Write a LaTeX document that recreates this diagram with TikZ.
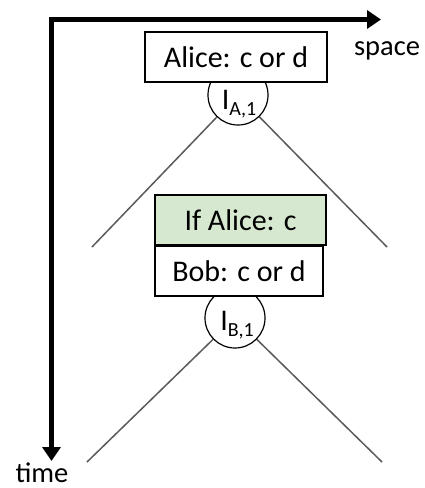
\documentclass[tikz,border=0pt]{standalone}
\usepackage{fontspec}
\setmainfont{Carlito}
\usetikzlibrary{arrows.meta}
\definecolor{greenfill}{RGB}{214,232,207}
\definecolor{branchgray}{RGB}{90,90,90}
\tikzset{
  axis/.style={line width=5pt, line join=miter, -{Triangle[length=14pt,width=18pt]}},
  box/.style={draw=black, line width=1.4pt, fill=white, minimum width=#1, minimum height=50pt, inner sep=0pt, font=\fontsize{30}{36}\selectfont},
  infobox/.style={box=#1, fill=greenfill},
  circ/.style={draw=black, line width=1.2pt, fill=white, circle, minimum size=60pt, inner sep=0pt},
  branch/.style={draw=branchgray, line width=1.5pt},
  lbl/.style={font=\fontsize{28.5}{34}\selectfont, inner sep=0pt},
  clbl/.style={font=\fontsize{30}{36}\selectfont, inner sep=0pt},
}
\newcommand{\subidx}[2]{#1\raisebox{-6pt}{\fontsize{20}{22}\selectfont #2}}
\begin{document}
\begin{tikzpicture}[x=1pt,y=-1pt]
\useasboundingbox (0,0) rectangle (424,488);
% axes
\coordinate (origin) at (51.5,19.5);
\coordinate (spaceend) at (381,19.5);
\coordinate (timeend) at (51.5,461);
\draw[axis] (origin) -- (spaceend);
\draw[axis] ([yshift=2.5pt]origin) -- (timeend);
\fill ([xshift=-2.5pt,yshift=-2.5pt]origin) rectangle ([xshift=2.5pt,yshift=2.5pt]origin);
\node[lbl] (space) at (387,51) {space};
\node[lbl] (time) at (42,473) {time};
% Alice level
\node[circ] (ca) at (238,95) {};
\node[clbl] (ta) at (239,104) {\subidx{I}{A,1}};
\coordinate (la) at (92,247);
\coordinate (ra) at (387,247);
\draw[branch] (ca) -- (la);
\draw[branch] (ca) -- (ra);
\node[box=182pt] (alice) at (236,57) {Alice: c or d};
% Bob level
\node[circ] (cb) at (235,318) {};
\node[clbl] (tb) at (237,325) {\subidx{I}{B,1}};
\coordinate (lb) at (87,462);
\coordinate (rb) at (382,462);
\draw[branch] (cb) -- (lb);
\draw[branch] (cb) -- (rb);
\node[box=168pt] (bob) at (239,271) {Bob: c or d};
\node[infobox=171pt] (ifalice) at (240.5,220) {If Alice: c};
\end{tikzpicture}
\end{document}
